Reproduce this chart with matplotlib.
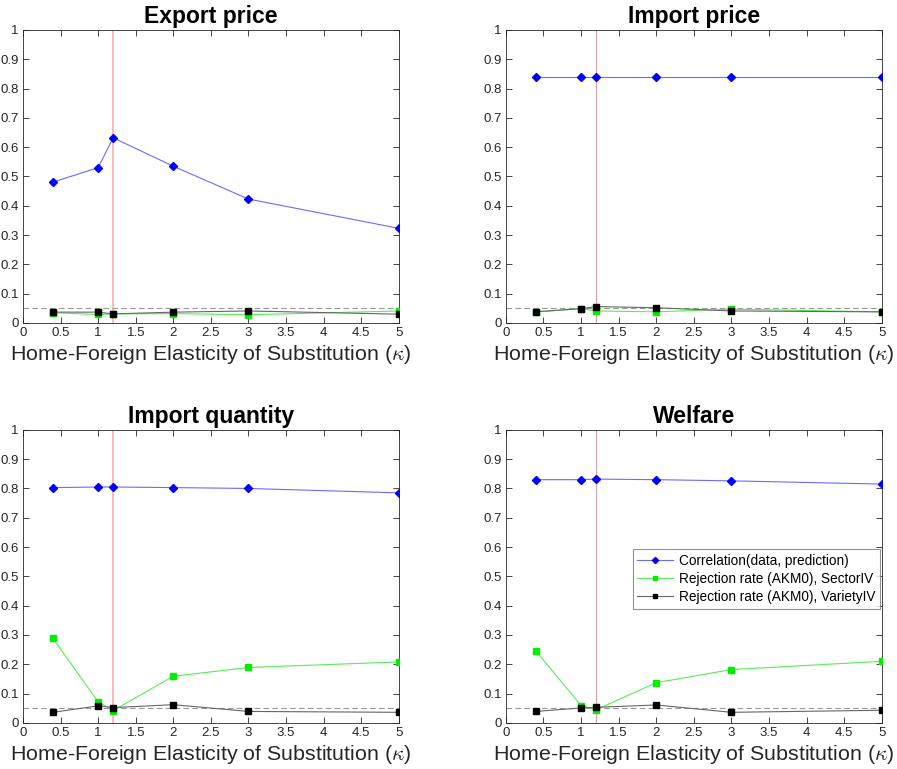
import numpy as np
import matplotlib
matplotlib.use('Agg')
import matplotlib.pyplot as plt

plt.rcParams['font.family'] = ['Liberation Sans', 'DejaVu Sans']
plt.rcParams['mathtext.fontset'] = 'cm'

# elasticity grid (kappa)
kappa = [0.4, 1, 1.2, 2, 3, 5]
kappa_mark = 1.2

titles = ['Export price', 'Import price', 'Import quantity', 'Welfare']

# correlation(data, prediction)
corr = [
    [0.481, 0.530, 0.632, 0.535, 0.423, 0.323],
    [0.840, 0.840, 0.840, 0.840, 0.840, 0.840],
    [0.803, 0.805, 0.805, 0.803, 0.800, 0.785],
    [0.830, 0.830, 0.832, 0.830, 0.826, 0.815],
]
# rejection rate (AKM0), SectorIV
rej_sector = [
    [0.035, 0.029, 0.031, 0.032, 0.028, 0.041],
    [0.038, 0.049, 0.041, 0.038, 0.047, 0.038],
    [0.288, 0.072, 0.042, 0.159, 0.189, 0.208],
    [0.245, 0.059, 0.045, 0.137, 0.182, 0.210],
]
# rejection rate (AKM0), VarietyIV
rej_variety = [
    [0.037, 0.037, 0.031, 0.037, 0.041, 0.030],
    [0.038, 0.049, 0.056, 0.052, 0.041, 0.038],
    [0.036, 0.058, 0.052, 0.062, 0.039, 0.036],
    [0.039, 0.051, 0.053, 0.061, 0.036, 0.043],
]
nominal = 0.05

fig = plt.figure(figsize=(8.97, 7.69), dpi=100)
ax_pos = [
    [0.0256, 0.580, 0.419, 0.381],
    [0.564, 0.580, 0.419, 0.381],
    [0.0256, 0.060, 0.419, 0.381],
    [0.564, 0.060, 0.419, 0.381],
]
# the marker line is drawn thicker/lighter on the left panels
vline_style = [('#ffaaaa', 1.2), ('#d99a9a', 0.7), ('#ffaaaa', 1.2), ('#d99a9a', 0.7)]

for i in range(4):
    ax = fig.add_axes(ax_pos[i])
    ax.axvline(kappa_mark, color=vline_style[i][0], lw=vline_style[i][1], zorder=1)
    ax.plot([0, 5], [nominal, nominal], ls='--', color='#999999', lw=0.8, dashes=(5, 3), zorder=1)
    ax.plot(kappa, corr[i], color='#6a6aff', lw=0.8, marker='D', ms=4.5,
            mfc='#0000ff', mec='#0000ff', label='Correlation(data, prediction)', zorder=3)
    ax.plot(kappa, rej_sector[i], color='#55ee55', lw=0.8, marker='s', ms=4.5,
            mfc='#00ee00', mec='#00ee00', label='Rejection rate (AKM0), SectorIV', zorder=3)
    ax.plot(kappa, rej_variety[i], color='#666666', lw=0.8, marker='s', ms=4.5,
            mfc='black', mec='black', label='Rejection rate (AKM0), VarietyIV', zorder=4)

    ax.set_xlim(0, 5)
    ax.set_ylim(0, 1)
    ax.set_xticks(np.arange(0, 5.01, 0.5))
    ax.set_xticklabels(['0', '0.5', '1', '1.5', '2', '2.5', '3', '3.5', '4', '4.5', '5'])
    ax.set_yticks(np.arange(0, 1.01, 0.1))
    ax.set_yticklabels(['0', '0.1', '0.2', '0.3', '0.4', '0.5', '0.6', '0.7', '0.8', '0.9', '1'])
    ax.tick_params(direction='in', top=True, right=True, length=4, width=0.6,
                   labelsize=9.5, colors='#262626', pad=3)
    for sp in ax.spines.values():
        sp.set_color('#262626')
        sp.set_linewidth(0.6)
    ax.set_title(titles[i], fontsize=16.5, fontweight='bold', pad=5)
    ax.set_xlabel(r'Home-Foreign Elasticity of Substitution ($\kappa$)', fontsize=15.4,
                  color='#262626', labelpad=3)

    if i == 3:
        leg = ax.legend(loc='upper left', bbox_to_anchor=(0.337, 0.594), fontsize=9.8,
                        frameon=True, fancybox=False, edgecolor='#777777',
                        handlelength=2.6, borderpad=0.35, labelspacing=0.3,
                        handletextpad=0.45, borderaxespad=0, markerscale=0.7)
        leg.get_frame().set_linewidth(0.8)

fig.savefig('out.png', dpi=100)
